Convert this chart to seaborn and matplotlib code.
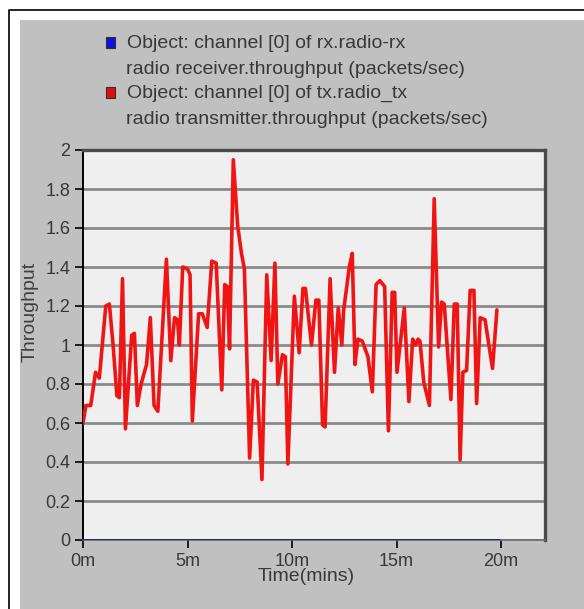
import pandas as pd
import seaborn as sns
import matplotlib.pyplot as plt
from matplotlib.patches import Rectangle
from matplotlib.lines import Line2D

# data (time in minutes, throughput in packets/sec)
tx_time = [0.00, 0.14, 0.37, 0.60, 0.78, 1.09, 1.26, 1.44, 1.62, 1.74,
           1.89, 2.03, 2.33, 2.46, 2.60, 2.78, 3.04, 3.22, 3.40, 3.58,
           3.99, 4.20, 4.38, 4.52, 4.61, 4.77, 5.00, 5.12, 5.23, 5.53,
           5.71, 5.94, 6.16, 6.37, 6.64, 6.78, 6.90, 7.01, 7.19, 7.40,
           7.58, 7.72, 7.97, 8.15, 8.33, 8.56, 8.79, 9.00, 9.18, 9.32,
           9.54, 9.68, 9.80, 10.11, 10.34, 10.52, 10.64, 10.93, 11.14, 11.28,
           11.46, 11.58, 11.82, 12.03, 12.21, 12.38, 12.47, 12.74, 12.88, 13.01,
           13.15, 13.36, 13.63, 13.84, 14.02, 14.20, 14.43, 14.61, 14.79, 14.91,
           15.02, 15.37, 15.59, 15.77, 15.91, 16.03, 16.12, 16.30, 16.57, 16.80,
           17.01, 17.15, 17.28, 17.60, 17.76, 17.90, 18.04, 18.17, 18.35, 18.52,
           18.70, 18.83, 19.00, 19.23, 19.59, 19.80]
tx_throughput = [0.60, 0.69, 0.69, 0.86, 0.83, 1.20, 1.21, 1.00, 0.74, 0.73,
                 1.34, 0.57, 1.05, 1.06, 0.69, 0.80, 0.90, 1.14, 0.69, 0.66,
                 1.44, 0.92, 1.14, 1.13, 1.00, 1.40, 1.39, 1.36, 0.61, 1.16,
                 1.16, 1.09, 1.43, 1.42, 0.77, 1.31, 1.30, 0.98, 1.95, 1.61,
                 1.47, 1.39, 0.42, 0.82, 0.81, 0.31, 1.36, 0.92, 1.42, 0.80,
                 0.95, 0.94, 0.39, 1.25, 0.96, 1.29, 1.29, 1.00, 1.23, 1.23,
                 0.59, 0.58, 1.34, 0.86, 1.19, 1.00, 1.18, 1.40, 1.47, 0.90,
                 1.03, 1.02, 0.94, 0.76, 1.31, 1.33, 1.30, 0.56, 1.27, 1.27,
                 0.86, 1.19, 0.71, 1.03, 1.00, 1.03, 1.02, 0.81, 0.69, 1.75,
                 0.99, 1.22, 1.21, 0.72, 1.21, 1.21, 0.41, 0.86, 0.87, 1.28,
                 1.28, 0.70, 1.14, 1.13, 0.88, 1.18]
rx_time = [0.0, 19.9]
rx_throughput = [0.0, 0.0]

x_ticks = [0, 5, 10, 15, 20]
x_labels = ['0m', '5m', '10m', '15m', '20m']
y_ticks = [0, 0.2, 0.4, 0.6, 0.8, 1.0, 1.2, 1.4, 1.6, 1.8, 2.0]
y_labels = ['0', '0.2', '0.4', '0.6', '0.8', '1', '1.2', '1.4', '1.6', '1.8', '2']

rx_label = ['Object: channel [0] of rx.radio-rx',
            'radio receiver.throughput (packets/sec)']
tx_label = ['Object: channel [0] of tx.radio_tx',
            'radio transmitter.throughput (packets/sec)']

tx_df = pd.DataFrame({'time': tx_time, 'throughput': tx_throughput})
rx_df = pd.DataFrame({'time': rx_time, 'throughput': rx_throughput})

sns.set_style('white')
plt.rcParams['font.family'] = ['Liberation Sans', 'DejaVu Sans']

W, H = 584, 609
fig = plt.figure(figsize=(W / 100, H / 100), dpi=100)
fig.patch.set_facecolor('white')

def fx(px):
    return px / W

def fy(py):
    return 1 - py / H

# grey panel and black frame, kept behind the axes
fig.patches.append(Rectangle((fx(20), 0), fx(584) - fx(20), fy(20),
                             transform=fig.transFigure, facecolor='#c0c0c0',
                             edgecolor='none', zorder=-10))
fig.lines.append(Line2D([fx(9), fx(9), 1], [0, fy(9.5), fy(9.5)],
                        transform=fig.transFigure, color='black', lw=1.2,
                        zorder=-9))

ax = fig.add_axes([fx(83), fy(540), fx(545) - fx(83), fy(150) - fy(540)])
ax.set_facecolor('#efefef')

sns.lineplot(data=rx_df, x='time', y='throughput', ax=ax, color='#1c1c8a',
             lw=2.0, zorder=4)
sns.lineplot(data=tx_df, x='time', y='throughput', ax=ax, color='#f01515',
             lw=2.6, zorder=3)

ax.set_xlim(0, 22.1)
ax.set_ylim(0, 2.0)
ax.set_xticks(x_ticks)
ax.set_xticklabels(x_labels)
ax.set_yticks(y_ticks)
ax.set_yticklabels(y_labels)
ax.tick_params(axis='both', direction='out', length=6, width=1.2,
               colors='black', labelcolor='#383838', labelsize=13, pad=3,
               left=True, bottom=True)
ax.yaxis.grid(True, color='#8a8a8a', lw=2.0)
ax.xaxis.grid(False)
ax.set_axisbelow(True)

ax.spines['left'].set_color('black')
ax.spines['left'].set_linewidth(1.4)
ax.spines['bottom'].set_color('#6a6a6a')
ax.spines['bottom'].set_linewidth(1.2)
for side in ['top', 'right']:
    ax.spines[side].set_color('#4a4a4a')
    ax.spines[side].set_linewidth(2.4)

ax.set_xlabel('Time(mins)', fontsize=14, color='#383838')
ax.xaxis.set_label_coords(0.483, -0.072)
ax.set_ylabel('Throughput', fontsize=14, color='#404040')
ax.yaxis.set_label_coords(-0.097, 0.585)

# legend drawn as coloured squares plus two-line captions
for top, colour, lines in [(37, '#1010e0', rx_label), (87, '#e01010', tx_label)]:
    fig.patches.append(Rectangle((fx(106), fy(top + 11)), fx(9), 11 / H,
                                 transform=fig.transFigure, facecolor=colour,
                                 edgecolor='#303030', lw=0.8))
    fig.text(fx(127), fy(top + 6), lines[0], fontsize=14, color='#383838',
             va='center', ha='left')
    fig.text(fx(126), fy(top + 32), lines[1], fontsize=14, color='#383838',
             va='center', ha='left')

fig.savefig('out.png', dpi=100)
